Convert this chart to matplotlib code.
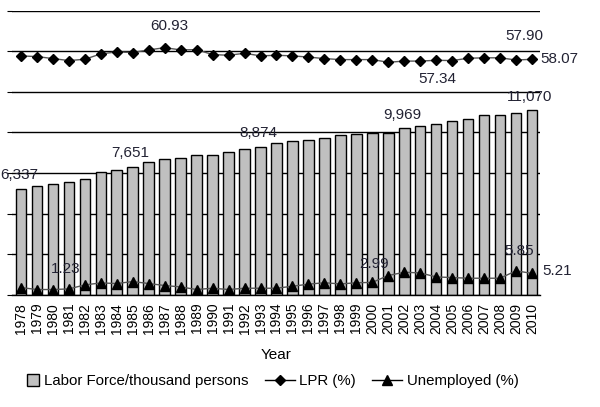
import matplotlib
matplotlib.use("Agg")
import matplotlib.pyplot as plt
import matplotlib.patches as mpatches
from matplotlib.lines import Line2D
from matplotlib.legend_handler import HandlerPatch

plt.rcParams['font.family'] = ['Liberation Sans', 'DejaVu Sans']

# Data
years = list(range(1978, 2011))
labor_force = [6337, 6490, 6610, 6760, 6920, 7340, 7460, 7651, 7950, 8130, 8190,
               8350, 8350, 8550, 8710, 8874, 9090, 9190, 9250, 9410, 9550, 9610,
               9710, 9710, 9969, 10090, 10250, 10390, 10510, 10770, 10750, 10870, 11070]
lpr = [58.90, 58.75, 58.25, 57.76, 58.08, 59.41, 59.90, 59.73, 60.40, 60.93, 60.40,
       60.45, 59.24, 59.07, 59.56, 58.92, 59.07, 58.92, 58.62, 58.25, 58.00, 58.00,
       58.00, 57.34, 57.63, 57.63, 57.83, 57.76, 58.33, 58.44, 58.44, 57.90, 58.07]
unemployed = [1.72, 1.23, 1.23, 1.38, 2.37, 2.86, 2.71, 3.20, 2.71, 2.22, 1.87,
              1.23, 1.55, 1.23, 1.55, 1.55, 1.55, 2.04, 2.55, 2.91, 2.61, 2.90,
              2.99, 4.69, 5.50, 5.33, 4.34, 4.19, 4.02, 4.02, 4.02, 5.85, 5.21]

# which points get a value label, and label offset in points (dx, dy)
bar_labels = {1978: (-1.5, 10), 1985: (-1.5, 10), 1993: (-1.5, 9.5),
              2002: (-1.5, 9.5), 2010: (-1.5, 9)}
lpr_labels = {1987: (3, 16), 2001: (35, -12), 2009: (6, 17), 2010: (20, 0)}
unemp_labels = {1980: (9, 14.5), 2000: (1.5, 13), 2009: (2, 14.5), 2010: (18, 1.5)}

txt_color = "#222233"

fig = plt.figure(figsize=(6, 4.07), dpi=100)
ax = fig.add_axes([0.02, 0.2764, 0.88, 0.6966])
x = list(range(len(years)))

ax.bar(x, labor_force, width=0.66, color="#c0c0c0", edgecolor="black", linewidth=1.0, zorder=2)
ax.set_ylim(0, 17000)
ax.set_yticks([17000 / 7 * i for i in range(8)])
ax.yaxis.grid(True, color="black", linewidth=1.0)
ax.set_axisbelow(True)
ax.tick_params(axis="y", left=False, labelleft=False)
ax.set_xlim(-0.56, len(years) - 0.5)
ax.set_xticks(x)
ax.set_xticklabels([str(y) for y in years], rotation=90, fontsize=10)
ax.tick_params(axis="x", length=0, pad=6)
for s in ["top", "right", "left"]:
    ax.spines[s].set_visible(False)
ax.spines["bottom"].set_linewidth(1.0)
ax.set_xlabel("Year", fontsize=11, labelpad=10)

for yr, (dx, dy) in bar_labels.items():
    i = years.index(yr)
    ax.annotate(f"{labor_force[i]:,}", xy=(i, labor_force[i]), xytext=(dx, dy),
                textcoords="offset points", ha="center", va="center",
                fontsize=11, color=txt_color)

ax2 = ax.twinx()
ax2.set_ylim(0, 70)
ax2.axis("off")
ax2.plot(x, lpr, color="#555555", linewidth=1.0, marker="D", markersize=5.5,
         markerfacecolor="black", markeredgecolor="black")
ax2.plot(x, unemployed, color="#555555", linewidth=1.0, marker="^", markersize=7,
         markerfacecolor="black", markeredgecolor="black")

for yr, (dx, dy) in lpr_labels.items():
    i = years.index(yr)
    ax2.annotate(f"{lpr[i]:.2f}", xy=(i, lpr[i]), xytext=(dx, dy),
                 textcoords="offset points", ha="center", va="center",
                 fontsize=11, color=txt_color, annotation_clip=False)
for yr, (dx, dy) in unemp_labels.items():
    i = years.index(yr)
    ax2.annotate(f"{unemployed[i]:.2f}", xy=(i, unemployed[i]), xytext=(dx, dy),
                 textcoords="offset points", ha="center", va="center",
                 fontsize=11, color=txt_color, annotation_clip=False)


def square_patch(legend, orig_handle, xdescent, ydescent, width, height, fontsize):
    s = fontsize * 0.8
    return mpatches.Rectangle((width - s - xdescent, -ydescent + (height - s) / 2), s, s)


handles = [
    mpatches.Patch(facecolor="#c0c0c0", edgecolor="black", linewidth=1.0),
    Line2D([], [], color="black", linewidth=1.0, marker="D", markersize=5.5),
    Line2D([], [], color="black", linewidth=1.0, marker="^", markersize=7),
]
labels = ["Labor Force/thousand persons", "LPR (%)", "Unemployed (%)"]
fig.legend(handles, labels, loc="center", bbox_to_anchor=(0.44, 0.064), ncol=3,
           frameon=False, fontsize=10.8, handlelength=2.0, handletextpad=0.3,
           columnspacing=1.1,
           handler_map={mpatches.Patch: HandlerPatch(patch_func=square_patch)})

fig.savefig("out.png", dpi=100)
